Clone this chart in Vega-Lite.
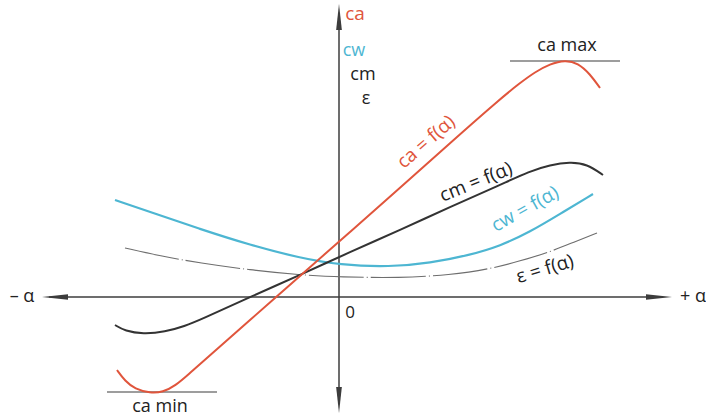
{
  "$schema": "https://vega.github.io/schema/vega-lite/v6.json",
  "width": 706,
  "height": 416,
  "padding": 0,
  "autosize": {"type": "fit", "contains": "padding"},
  "background": "#ffffff",
  "config": {"view": {"stroke": null}},
  "datasets": {
    "curves": [
      {"s": "ca", "a": -222, "v": -73}, {"s": "ca", "a": -214, "v": -84}, {"s": "ca", "a": -204, "v": -92},
      {"s": "ca", "a": -189, "v": -96}, {"s": "ca", "a": -176, "v": -95}, {"s": "ca", "a": -164, "v": -89},
      {"s": "ca", "a": -149, "v": -76}, {"s": "ca", "a": -139, "v": -67}, {"s": "ca", "a": -89, "v": -23},
      {"s": "ca", "a": -39, "v": 21}, {"s": "ca", "a": 11, "v": 65}, {"s": "ca", "a": 61, "v": 109},
      {"s": "ca", "a": 111, "v": 154}, {"s": "ca", "a": 161, "v": 198}, {"s": "ca", "a": 181, "v": 214},
      {"s": "ca", "a": 196, "v": 225}, {"s": "ca", "a": 211, "v": 233}, {"s": "ca", "a": 226, "v": 237},
      {"s": "ca", "a": 239, "v": 234}, {"s": "ca", "a": 251, "v": 223}, {"s": "ca", "a": 261, "v": 209},
      {"s": "cm", "a": -224, "v": -28}, {"s": "cm", "a": -214, "v": -34}, {"s": "cm", "a": -196, "v": -37},
      {"s": "cm", "a": -174, "v": -35}, {"s": "cm", "a": -154, "v": -29}, {"s": "cm", "a": -139, "v": -23},
      {"s": "cm", "a": -89, "v": 0}, {"s": "cm", "a": -39, "v": 22}, {"s": "cm", "a": 11, "v": 45},
      {"s": "cm", "a": 61, "v": 67}, {"s": "cm", "a": 111, "v": 90}, {"s": "cm", "a": 161, "v": 112},
      {"s": "cm", "a": 191, "v": 126}, {"s": "cm", "a": 211, "v": 132}, {"s": "cm", "a": 231, "v": 135},
      {"s": "cm", "a": 248, "v": 133}, {"s": "cm", "a": 264, "v": 122},
      {"s": "cw", "a": -224, "v": 97}, {"s": "cw", "a": -189, "v": 85}, {"s": "cw", "a": -139, "v": 68},
      {"s": "cw", "a": -89, "v": 52}, {"s": "cw", "a": -39, "v": 39}, {"s": "cw", "a": 1, "v": 32},
      {"s": "cw", "a": 51, "v": 30}, {"s": "cw", "a": 91, "v": 34}, {"s": "cw", "a": 131, "v": 42},
      {"s": "cw", "a": 161, "v": 51}, {"s": "cw", "a": 191, "v": 65}, {"s": "cw", "a": 221, "v": 83},
      {"s": "cw", "a": 254, "v": 103},
      {"s": "eps", "a": -214, "v": 49}, {"s": "eps", "a": -179, "v": 41}, {"s": "eps", "a": -139, "v": 34},
      {"s": "eps", "a": -89, "v": 27}, {"s": "eps", "a": -39, "v": 22}, {"s": "eps", "a": 1, "v": 20},
      {"s": "eps", "a": 61, "v": 19}, {"s": "eps", "a": 111, "v": 22}, {"s": "eps", "a": 151, "v": 28},
      {"s": "eps", "a": 181, "v": 36}, {"s": "eps", "a": 211, "v": 45}, {"s": "eps", "a": 235, "v": 55},
      {"s": "eps", "a": 258, "v": 64}
    ]
  },
  "encoding": {
    "x": {"field": "a", "type": "quantitative", "scale": {"domain": [-339, 367], "nice": false, "zero": false}, "axis": null},
    "y": {"field": "v", "type": "quantitative", "scale": {"domain": [-119, 297], "nice": false, "zero": false}, "axis": null}
  },
  "layer": [
    {
      "data": {"values": [{"a": -290, "a2": 320, "v": 0, "v2": 0}, {"a": 0, "a2": 0, "v": 280, "v2": -103}]},
      "mark": {"type": "rule", "color": "#3c3c3c", "strokeWidth": 1.5},
      "encoding": {"x2": {"field": "a2"}, "y2": {"field": "v2"}}
    },
    {
      "data": {"values": [{"a": 171, "a2": 281, "v": 236}, {"a": -232, "a2": -122, "v": -95}]},
      "mark": {"type": "rule", "color": "#3c3c3c", "strokeWidth": 1.2},
      "encoding": {"x2": {"field": "a2"}}
    },
    {
      "data": {"values": [{"a": 320, "v": 0}]},
      "mark": {"type": "point", "shape": "M-1,-0.22L1,0L-1,0.22Z", "size": 676, "filled": true, "opacity": 1, "color": "#3c3c3c"}
    },
    {
      "data": {"values": [{"a": -284, "v": 0}]},
      "mark": {"type": "point", "shape": "M1,-0.22L-1,0L1,0.22Z", "size": 676, "filled": true, "opacity": 1, "color": "#3c3c3c"}
    },
    {
      "data": {"values": [{"a": 0, "v": 280}]},
      "mark": {"type": "point", "shape": "M-0.22,1L0,-1L0.22,1Z", "size": 676, "filled": true, "opacity": 1, "color": "#3c3c3c"}
    },
    {
      "data": {"values": [{"a": 0, "v": -103}]},
      "mark": {"type": "point", "shape": "M-0.22,-1L0,1L0.22,-1Z", "size": 676, "filled": true, "opacity": 1, "color": "#3c3c3c"}
    },
    {
      "data": {"name": "curves"},
      "transform": [{"filter": "datum.s === 'eps'"}],
      "mark": {"type": "line", "interpolate": "basis", "color": "#6e6e6e", "strokeWidth": 1.1, "strokeDash": [55, 3, 1, 3]}
    },
    {
      "data": {"name": "curves"},
      "transform": [{"filter": "datum.s === 'cw'"}],
      "mark": {"type": "line", "interpolate": "basis", "color": "#4db6d2", "strokeWidth": 2.2}
    },
    {
      "data": {"name": "curves"},
      "transform": [{"filter": "datum.s === 'cm'"}],
      "mark": {"type": "line", "interpolate": "basis", "color": "#333333", "strokeWidth": 2}
    },
    {
      "data": {"name": "curves"},
      "transform": [{"filter": "datum.s === 'ca'"}],
      "mark": {"type": "line", "interpolate": "basis", "color": "#e0553c", "strokeWidth": 2}
    },
    {
      "data": {"values": [{"t": "ca", "a": 16, "v": 283}]},
      "mark": {"type": "text", "font": "Open Sans", "fontSize": 19, "color": "#e0553c", "align": "center", "baseline": "middle"},
      "encoding": {"text": {"field": "t"}}
    },
    {
      "data": {"values": [{"t": "cw", "a": 15, "v": 246}]},
      "mark": {"type": "text", "font": "Open Sans", "fontSize": 18, "color": "#4db6d2", "align": "center", "baseline": "middle"},
      "encoding": {"text": {"field": "t"}}
    },
    {
      "data": {"values": [{"t": "cm", "a": 24, "v": 222}, {"t": "ε", "a": 27, "v": 198}]},
      "mark": {"type": "text", "font": "Open Sans", "fontSize": 18, "color": "#222222", "align": "center", "baseline": "middle"},
      "encoding": {"text": {"field": "t"}}
    },
    {
      "data": {"values": [{"t": "– α", "a": -317, "v": 0}, {"t": "ca max", "a": 228, "v": 251}, {"t": "ca min", "a": -179, "v": -110}]},
      "mark": {"type": "text", "font": "Open Sans", "fontSize": 18, "color": "#222222", "align": "center", "baseline": "middle"},
      "encoding": {"text": {"field": "t"}}
    },
    {
      "data": {"values": [{"t": "+ α", "a": 341, "v": 0}]},
      "mark": {"type": "text", "font": "Open Sans", "fontSize": 18, "color": "#222222", "align": "left", "baseline": "middle"},
      "encoding": {"text": {"field": "t"}}
    },
    {
      "data": {"values": [{"t": "0", "a": 11, "v": -16}]},
      "mark": {"type": "text", "font": "Open Sans", "fontSize": 17, "color": "#222222", "align": "center", "baseline": "middle"},
      "encoding": {"text": {"field": "t"}}
    },
    {
      "data": {"values": [{"t": "ca = f(α)", "a": 87, "v": 155}]},
      "mark": {"type": "text", "font": "Open Sans", "fontSize": 19, "color": "#e0553c", "align": "center", "baseline": "middle", "angle": -41},
      "encoding": {"text": {"field": "t"}}
    },
    {
      "data": {"values": [{"t": "cm = f(α)", "a": 137, "v": 115}]},
      "mark": {"type": "text", "font": "Open Sans", "fontSize": 19, "color": "#222222", "align": "center", "baseline": "middle", "angle": -22},
      "encoding": {"text": {"field": "t"}}
    },
    {
      "data": {"values": [{"t": "cw = f(α)", "a": 186, "v": 88}]},
      "mark": {"type": "text", "font": "Open Sans", "fontSize": 19, "color": "#4db6d2", "align": "center", "baseline": "middle", "angle": -29},
      "encoding": {"text": {"field": "t"}}
    },
    {
      "data": {"values": [{"t": "ε = f(α)", "a": 206, "v": 28}]},
      "mark": {"type": "text", "font": "Open Sans", "fontSize": 19, "color": "#222222", "align": "center", "baseline": "middle", "angle": -17},
      "encoding": {"text": {"field": "t"}}
    }
  ]
}
